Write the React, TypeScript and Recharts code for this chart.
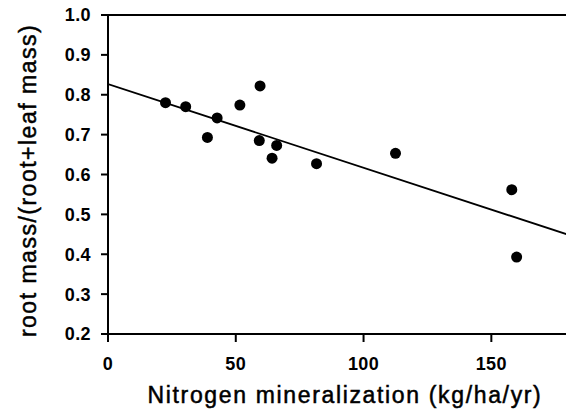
import { ScatterChart, Scatter, XAxis, YAxis, ReferenceLine } from "recharts";

// nitrogen mineralization (kg/ha/yr) vs root fraction
const nMin = [22.5, 30.4, 38.9, 42.7, 51.6, 59.5, 59.2, 64.2, 66.0, 81.6, 112.5, 158.0, 159.9];
const rootFrac = [0.78, 0.77, 0.693, 0.742, 0.774, 0.822, 0.685, 0.641, 0.673, 0.627, 0.653, 0.562, 0.393];

// regression line end points
const fitX = [0, 180];
const fitY = [0.827, 0.449];

const xTicks = [0, 50, 100, 150];
const yTicks = [0.2, 0.3, 0.4, 0.5, 0.6, 0.7, 0.8, 0.9, 1.0];

const points = nMin.map((x, i) => ({ x, y: rootFrac[i] }));
const fit = fitX.map((x, i) => ({ x, y: fitY[i] }));

const tickFont = {
  fill: "#000",
  fontSize: 18,
  fontWeight: 700,
  fontFamily: "Liberation Sans, Arial, sans-serif",
  letterSpacing: 0.4,
};

const titleFont = {
  fill: "#000",
  stroke: "#000",
  strokeWidth: 0.5,
  fontSize: 23,
  fontFamily: "Liberation Sans, Arial, sans-serif",
};

const Dot = (p: any) => <circle cx={p.cx} cy={p.cy} r={5.5} fill="#000" />;

export default function App() {
  return (
    <div style={{ position: "absolute", left: 0, top: 0, width: 566, height: 412, overflow: "hidden", background: "#fff" }}>
      <ScatterChart width={570} height={412} margin={{ top: 15, right: 2, bottom: 0, left: 0 }}>
        <XAxis
          type="number"
          dataKey="x"
          domain={[0, 180]}
          ticks={xTicks}
          allowDataOverflow
          height={78}
          stroke="#000"
          strokeWidth={2}
          tickSize={8}
          tickMargin={15}
          tick={tickFont}
          label={{
            value: "Nitrogen mineralization (kg/ha/yr)",
            position: "insideBottom",
            offset: 9,
            dx: 7,
            style: { ...titleFont, letterSpacing: 1.65 },
          }}
        />
        <YAxis
          type="number"
          dataKey="y"
          domain={[0.2, 1.0]}
          ticks={yTicks}
          allowDataOverflow
          width={108}
          stroke="#000"
          strokeWidth={2}
          tickSize={7}
          tickMargin={10}
          tick={tickFont}
          tickFormatter={(v: number) => v.toFixed(1)}
          label={{
            value: "root mass/(root+leaf mass)",
            angle: -90,
            position: "center",
            dx: -26,
            dy: 6,
            style: { ...titleFont, letterSpacing: 1.5 },
          }}
        />
        <ReferenceLine y={1.0} stroke="#000" strokeWidth={2} />
        <Scatter
          data={fit}
          line={{ stroke: "#000", strokeWidth: 1.8 }}
          shape={() => <g />}
          isAnimationActive={false}
        />
        <Scatter data={points} shape={Dot} isAnimationActive={false} />
      </ScatterChart>
    </div>
  );
}
